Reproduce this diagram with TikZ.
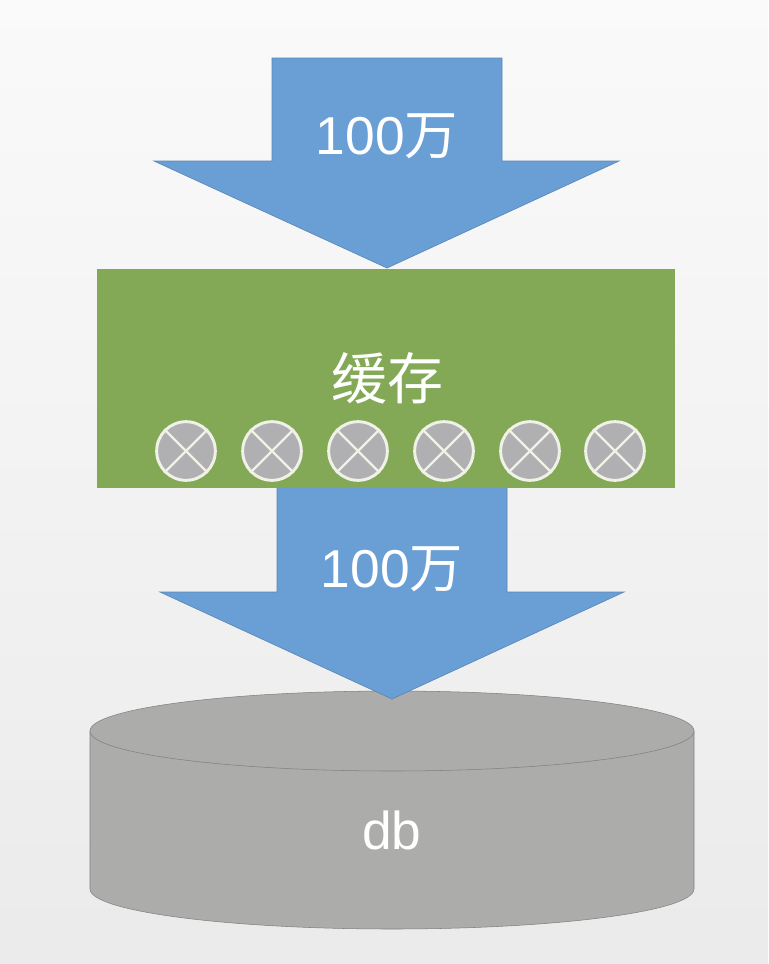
\documentclass[tikz,border=0pt]{standalone}
\usepackage{fontspec}
\setmainfont{Liberation Sans}
\newfontfamily\cjk{Noto Sans CJK SC}
\definecolor{arrowblue}{RGB}{106,159,214}
\definecolor{cachegreen}{RGB}{131,169,87}
\definecolor{dbgray}{RGB}{172,172,170}
\definecolor{markgray}{RGB}{176,176,178}
\definecolor{markline}{RGB}{240,242,232}
\tikzset{
  downarrow/.style={fill=arrowblue,draw=arrowblue!85!black,line width=0.5pt},
  lbl/.style={text=white,inner sep=0pt,font=\fontsize{40}{40}\selectfont},
  xmark/.style={circle,draw=markline,fill=markgray,line width=2.2pt,minimum size=44pt,inner sep=0pt},
}
\begin{document}
\begin{tikzpicture}[x=0.75pt,y=0.75pt,yscale=-1,xscale=1]
\useasboundingbox (0,0) rectangle (768,964);
\shade[top color=white!98!black,bottom color=white!92!black] (0,0) rectangle (768,964);
% arrows
\draw[downarrow] (272,58) -- (502,58) -- (502,161) -- (619,161) -- (387,268) -- (154,161) -- (272,161) -- cycle ;
% db
\draw[fill=dbgray,draw=black!50] (90,731) -- (90,889) .. controls (90,911) and (225,929) .. (392,929) .. controls (559,929) and (694,911) .. (694,889) -- (694,731) -- cycle ;
\draw[fill=dbgray,draw=black!50] (392,691) .. controls (559,691) and (694,709) .. (694,731) .. controls (694,753) and (559,771) .. (392,771) .. controls (225,771) and (90,753) .. (90,731) .. controls (90,709) and (225,691) .. (392,691) -- cycle ;
\draw[downarrow] (277,485) -- (507,485) -- (507,592) -- (624,592) -- (392,699) -- (160,592) -- (277,592) -- cycle ;
% cache
\node[fill=cachegreen,minimum width=433pt,minimum height=164pt,inner sep=0pt] (cache) at (386,378.5) {};
\node[lbl,font=\fontsize{42}{42}\selectfont] (cachelbl) at (387,378) {\cjk 缓存};
\foreach \i/\cx in {1/186,2/272,3/358,4/444,5/530,6/615}{
  \node[xmark] (m\i) at (\cx,451) {};
  \draw[markline,line width=1.8pt] (m\i.north west) -- (m\i.south east);
  \draw[markline,line width=1.8pt] (m\i.north east) -- (m\i.south west);
}
\node[lbl] (toplbl) at (387,136) {100\cjk 万};
\node[lbl] (midlbl) at (392,569) {100\cjk 万};
\node[lbl] (dblbl) at (392,830) {db};
\end{tikzpicture}
\end{document}
